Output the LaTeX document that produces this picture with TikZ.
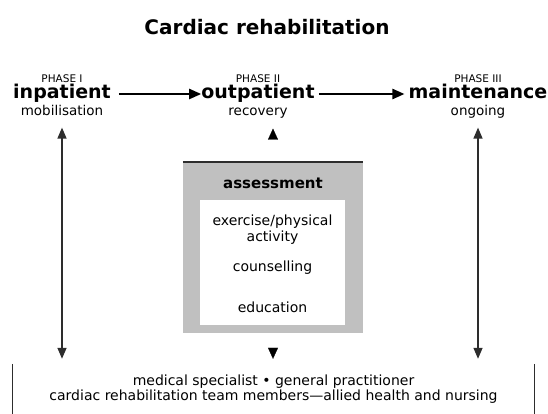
\documentclass[tikz,border=0pt]{standalone}
\usepackage{fontspec}
\setmainfont{DejaVu Sans}
\usetikzlibrary{arrows.meta}
\usetikzlibrary{positioning}
\definecolor{boxgrey}{RGB}{192,192,192}
\definecolor{darkline}{RGB}{45,45,45}
\tikzset{
  stage/.style={font=\fontsize{19}{21}\selectfont\bfseries, inner sep=0pt, text height=14pt, text depth=4pt},
  phase/.style={font=\fontsize{10.5}{11}\selectfont, inner sep=0pt, text height=8pt, text depth=0pt},
  sub/.style={font=\fontsize{13.5}{15}\selectfont, inner sep=0pt, text height=10pt, text depth=3pt},
  item/.style={font=\fontsize{14}{16}\selectfont, inner sep=0pt, align=center},
  flow/.style={-{Triangle[length=12pt,width=10pt]}, line width=2.2pt},
  both/.style={{Triangle[length=11pt,width=9pt]}-{Triangle[length=11pt,width=9pt]}, line width=1.4pt, darkline},
  tiponly/.style={white, line width=0.2pt, -{Triangle[length=11pt,width=10pt,black]}}
}

\begin{document}
\begin{tikzpicture}[x=1pt,y=-1pt]
  \useasboundingbox (0,0) rectangle (548,414);

  \node [font=\fontsize{20}{22}\selectfont\bfseries] (title) at (267,27) {Cardiac rehabilitation};

  \node [stage] (inp) at (62,94) {inpatient};
  \node [stage] (outp) at (258,94) {outpatient};
  \node [stage] (maint) at (478,94) {maintenance};

  \node [phase, above=2.5pt of inp] (ph1) {PHASE I};
  \node [phase, above=2.5pt of outp] (ph2) {PHASE II};
  \node [phase, above=2.5pt of maint] (ph3) {PHASE III};

  \node [sub, below=2pt of inp] (mob) {mobilisation};
  \node [sub, below=2pt of outp] (rec) {recovery};
  \node [sub, below=2pt of maint] (ong) {ongoing};

  \draw [flow, shorten <=8pt] (inp) -- (outp);
  \draw [flow, shorten <=4pt, shorten >=4pt] (outp) -- (maint);

  \node [minimum width=521pt, minimum height=51pt, inner sep=0pt, align=center,
         font=\fontsize{14}{15}\selectfont] (team) at (273.5,389.5)
        {medical specialist \textbullet\ general practitioner\\cardiac rehabilitation team members\textemdash allied health and nursing};
  \draw [line width=1.2pt, darkline] (team.north west) -- (team.south west);
  \draw [line width=1.2pt, darkline] (team.north east) -- (team.south east);

  \draw [both, shorten <=9pt, shorten >=5pt] (mob.south) -- (mob.south |- team.north);
  \draw [both, shorten <=9pt, shorten >=5pt] (ong.south) -- (ong.south |- team.north);

  \node [fill=boxgrey, minimum width=180pt, minimum height=171pt, inner sep=0pt] (assess) at (273,247.5) {};
  \draw [tiponly, shorten <=3pt, shorten >=10pt] (assess.north) -- (assess.north |- rec.south);
  \draw [tiponly, shorten <=3pt, shorten >=5pt] (assess.south) -- (assess.south |- team.north);
  \draw [line width=2pt, darkline] (assess.north west) -- (assess.north east);
  \node [font=\fontsize{15}{17}\selectfont\bfseries, inner sep=0pt, text height=11pt, text depth=0pt,
         below=15.5pt of assess.north] (head) {assessment};

  \node [fill=white, minimum width=145pt, minimum height=125pt, inner sep=0pt] (tasks) at (272.5,262.5) {};
  \node [item] (ex) at (272.5,230) {exercise/physical\\activity};
  \node [item] (coun) at (272.5,268) {counselling};
  \node [item] (edu) at (272.5,307) {education};
\end{tikzpicture}
\end{document}
